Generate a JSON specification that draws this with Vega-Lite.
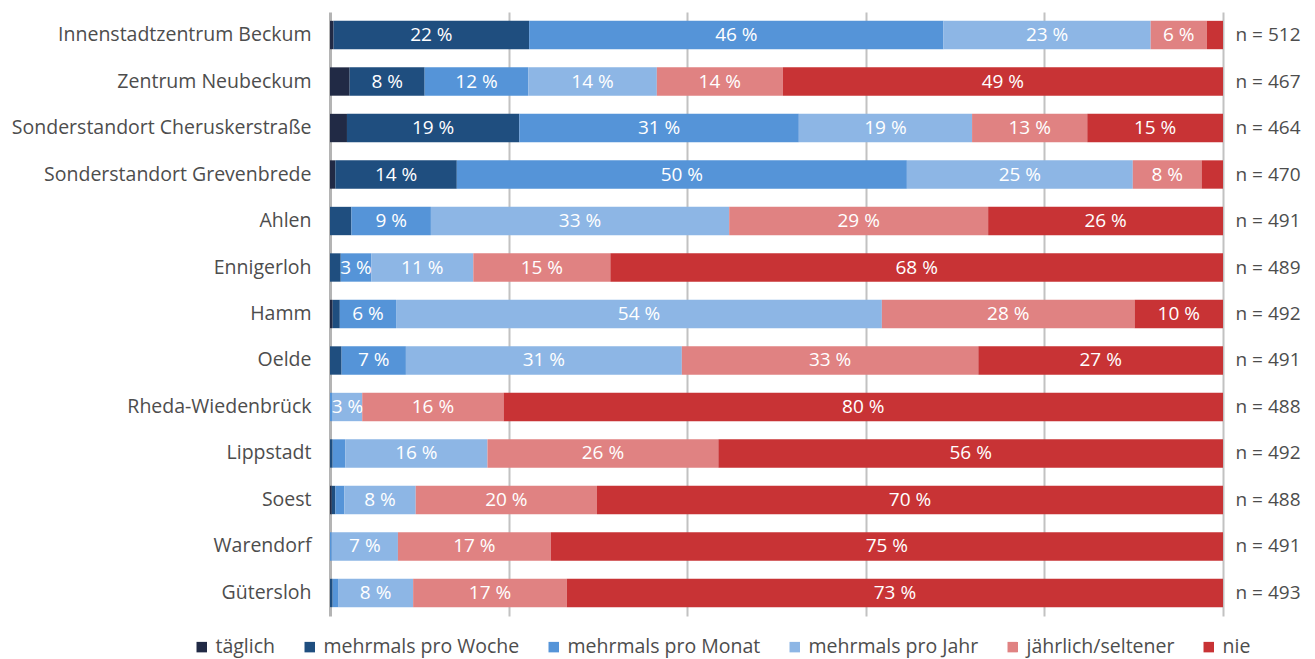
{
  "$schema": "https://vega.github.io/schema/vega-lite/v6.json",
  "width": 893,
  "height": 604,
  "autosize": {"type": "none"},
  "padding": {"left": 330, "top": 12, "right": 92, "bottom": 43},
  "background": "white",
  "config": {
    "font": "Open Sans",
    "view": {"stroke": null}
  },
  "datasets": {
    "seg": [
      {"loc": "Innenstadtzentrum Beckum", "cat": "täglich", "v": 0.4},
      {"loc": "Innenstadtzentrum Beckum", "cat": "mehrmals pro Woche", "v": 21.9},
      {"loc": "Innenstadtzentrum Beckum", "cat": "mehrmals pro Monat", "v": 46.4},
      {"loc": "Innenstadtzentrum Beckum", "cat": "mehrmals pro Jahr", "v": 23.2},
      {"loc": "Innenstadtzentrum Beckum", "cat": "jährlich/seltener", "v": 6.3},
      {"loc": "Innenstadtzentrum Beckum", "cat": "nie", "v": 1.8},
      {"loc": "Zentrum Neubeckum\u00a0", "cat": "täglich", "v": 2.2},
      {"loc": "Zentrum Neubeckum\u00a0", "cat": "mehrmals pro Woche", "v": 8.4},
      {"loc": "Zentrum Neubeckum\u00a0", "cat": "mehrmals pro Monat", "v": 11.6},
      {"loc": "Zentrum Neubeckum\u00a0", "cat": "mehrmals pro Jahr", "v": 14.4},
      {"loc": "Zentrum Neubeckum\u00a0", "cat": "jährlich/seltener", "v": 14.1},
      {"loc": "Zentrum Neubeckum\u00a0", "cat": "nie", "v": 49.3},
      {"loc": "Sonderstandort Cheruskerstraße", "cat": "täglich", "v": 1.9},
      {"loc": "Sonderstandort Cheruskerstraße", "cat": "mehrmals pro Woche", "v": 19.3},
      {"loc": "Sonderstandort Cheruskerstraße", "cat": "mehrmals pro Monat", "v": 31.3},
      {"loc": "Sonderstandort Cheruskerstraße", "cat": "mehrmals pro Jahr", "v": 19.4},
      {"loc": "Sonderstandort Cheruskerstraße", "cat": "jährlich/seltener", "v": 12.9},
      {"loc": "Sonderstandort Cheruskerstraße", "cat": "nie", "v": 15.2},
      {"loc": "Sonderstandort Grevenbrede", "cat": "täglich", "v": 0.6},
      {"loc": "Sonderstandort Grevenbrede", "cat": "mehrmals pro Woche", "v": 13.6},
      {"loc": "Sonderstandort Grevenbrede", "cat": "mehrmals pro Monat", "v": 50.4},
      {"loc": "Sonderstandort Grevenbrede", "cat": "mehrmals pro Jahr", "v": 25.3},
      {"loc": "Sonderstandort Grevenbrede", "cat": "jährlich/seltener", "v": 7.7},
      {"loc": "Sonderstandort Grevenbrede", "cat": "nie", "v": 2.4},
      {"loc": "Ahlen", "cat": "mehrmals pro Woche", "v": 2.4},
      {"loc": "Ahlen", "cat": "mehrmals pro Monat", "v": 8.9},
      {"loc": "Ahlen", "cat": "mehrmals pro Jahr", "v": 33.4},
      {"loc": "Ahlen", "cat": "jährlich/seltener", "v": 29.0},
      {"loc": "Ahlen", "cat": "nie", "v": 26.3},
      {"loc": "Ennigerloh", "cat": "mehrmals pro Woche", "v": 1.2},
      {"loc": "Ennigerloh", "cat": "mehrmals pro Monat", "v": 3.4},
      {"loc": "Ennigerloh", "cat": "mehrmals pro Jahr", "v": 11.4},
      {"loc": "Ennigerloh", "cat": "jährlich/seltener", "v": 15.3},
      {"loc": "Ennigerloh", "cat": "nie", "v": 68.4},
      {"loc": "Hamm", "cat": "täglich", "v": 0.3},
      {"loc": "Hamm", "cat": "mehrmals pro Woche", "v": 0.8},
      {"loc": "Hamm", "cat": "mehrmals pro Monat", "v": 6.3},
      {"loc": "Hamm", "cat": "mehrmals pro Jahr", "v": 54.4},
      {"loc": "Hamm", "cat": "jährlich/seltener", "v": 28.3},
      {"loc": "Hamm", "cat": "nie", "v": 9.9},
      {"loc": "Oelde", "cat": "mehrmals pro Woche", "v": 1.3},
      {"loc": "Oelde", "cat": "mehrmals pro Monat", "v": 7.2},
      {"loc": "Oelde", "cat": "mehrmals pro Jahr", "v": 30.9},
      {"loc": "Oelde", "cat": "jährlich/seltener", "v": 33.2},
      {"loc": "Oelde", "cat": "nie", "v": 27.4},
      {"loc": "Rheda-Wiedenbrück", "cat": "mehrmals pro Monat", "v": 0.3},
      {"loc": "Rheda-Wiedenbrück", "cat": "mehrmals pro Jahr", "v": 3.3},
      {"loc": "Rheda-Wiedenbrück", "cat": "jährlich/seltener", "v": 15.8},
      {"loc": "Rheda-Wiedenbrück", "cat": "nie", "v": 80.4},
      {"loc": "Lippstadt", "cat": "mehrmals pro Woche", "v": 0.3},
      {"loc": "Lippstadt", "cat": "mehrmals pro Monat", "v": 1.4},
      {"loc": "Lippstadt", "cat": "mehrmals pro Jahr", "v": 15.9},
      {"loc": "Lippstadt", "cat": "jährlich/seltener", "v": 25.8},
      {"loc": "Lippstadt", "cat": "nie", "v": 56.4},
      {"loc": "Soest", "cat": "täglich", "v": 0.2},
      {"loc": "Soest", "cat": "mehrmals pro Woche", "v": 0.4},
      {"loc": "Soest", "cat": "mehrmals pro Monat", "v": 1.0},
      {"loc": "Soest", "cat": "mehrmals pro Jahr", "v": 8.0},
      {"loc": "Soest", "cat": "jährlich/seltener", "v": 20.3},
      {"loc": "Soest", "cat": "nie", "v": 70.1},
      {"loc": "Warendorf", "cat": "mehrmals pro Monat", "v": 0.2},
      {"loc": "Warendorf", "cat": "mehrmals pro Jahr", "v": 7.4},
      {"loc": "Warendorf", "cat": "jährlich/seltener", "v": 17.1},
      {"loc": "Warendorf", "cat": "nie", "v": 75.2},
      {"loc": "Gütersloh", "cat": "mehrmals pro Woche", "v": 0.3},
      {"loc": "Gütersloh", "cat": "mehrmals pro Monat", "v": 0.6},
      {"loc": "Gütersloh", "cat": "mehrmals pro Jahr", "v": 8.4},
      {"loc": "Gütersloh", "cat": "jährlich/seltener", "v": 17.2},
      {"loc": "Gütersloh", "cat": "nie", "v": 73.4}
    ],
    "nvals": [
      {"loc": "Innenstadtzentrum Beckum", "n": 512},
      {"loc": "Zentrum Neubeckum\u00a0", "n": 467},
      {"loc": "Sonderstandort Cheruskerstraße", "n": 464},
      {"loc": "Sonderstandort Grevenbrede", "n": 470},
      {"loc": "Ahlen", "n": 491},
      {"loc": "Ennigerloh", "n": 489},
      {"loc": "Hamm", "n": 492},
      {"loc": "Oelde", "n": 491},
      {"loc": "Rheda-Wiedenbrück", "n": 488},
      {"loc": "Lippstadt", "n": 492},
      {"loc": "Soest", "n": 488},
      {"loc": "Warendorf", "n": 491},
      {"loc": "Gütersloh", "n": 493}
    ]
  },
  "layer": [
    {
      "data": {"name": "seg"},
      "transform": [
        {"calculate": "indexof(['täglich','mehrmals pro Woche','mehrmals pro Monat','mehrmals pro Jahr','jährlich/seltener','nie'], datum.cat)", "as": "k"},
        {"stack": "v", "groupby": ["loc"], "sort": [{"field": "k", "order": "ascending"}], "offset": "normalize", "as": ["s0", "s1"]}
      ],
      "mark": {"type": "bar"},
      "encoding": {
        "y": {
          "field": "loc", "type": "nominal",
          "sort": ["Innenstadtzentrum Beckum","Zentrum Neubeckum\u00a0","Sonderstandort Cheruskerstraße","Sonderstandort Grevenbrede","Ahlen","Ennigerloh","Hamm","Oelde","Rheda-Wiedenbrück","Lippstadt","Soest","Warendorf","Gütersloh"],
          "scale": {"paddingInner": 0.39, "paddingOuter": 0.19},
          "axis": {"title": null, "ticks": false, "domain": true, "domainColor": "#b4b4b4", "domainWidth": 3, "labelFontSize": 19.5, "labelColor": "#4d4d4d", "labelPadding": 19, "labelLimit": 0, "grid": false}
        },
        "x": {
          "field": "s0", "type": "quantitative",
          "scale": {"domain": [0, 1], "nice": false},
          "axis": {"title": null, "labels": false, "ticks": false, "domain": false, "grid": true, "gridColor": "#c2c2c2", "gridWidth": 2, "values": [0.2, 0.4, 0.6, 0.8, 1]}
        },
        "x2": {"field": "s1"},
        "color": {
          "field": "cat", "type": "nominal",
          "scale": {
            "domain": ["täglich","mehrmals pro Woche","mehrmals pro Monat","mehrmals pro Jahr","jährlich/seltener","nie"],
            "range": ["#212a45","#1f4e7f","#5594d8","#8db6e5","#e08282","#c83335"]
          },
          "legend": {
            "title": null, "orient": "none", "direction": "horizontal",
            "legendX": -138, "legendY": 625,
            "symbolType": "square", "symbolSize": 110, "symbolStrokeWidth": 0,
            "labelFontSize": 19.5, "labelColor": "#4d4d4d", "labelOffset": 4, "labelLimit": 0,
            "columnPadding": 24
          }
        }
      }
    },
    {
      "data": {"name": "seg"},
      "transform": [
        {"calculate": "indexof(['täglich','mehrmals pro Woche','mehrmals pro Monat','mehrmals pro Jahr','jährlich/seltener','nie'], datum.cat)", "as": "k"},
        {"stack": "v", "groupby": ["loc"], "sort": [{"field": "k", "order": "ascending"}], "offset": "normalize", "as": ["s0", "s1"]},
        {"filter": "datum.v >= 3"},
        {"calculate": "(datum.s0 + datum.s1) / 2", "as": "mid"},
        {"calculate": "format(datum.v, '.0f') + ' %'", "as": "label"}
      ],
      "mark": {"type": "text", "color": "white", "fontSize": 19, "align": "center", "baseline": "middle"},
      "encoding": {
        "y": {"field": "loc", "type": "nominal", "sort": ["Innenstadtzentrum Beckum","Zentrum Neubeckum\u00a0","Sonderstandort Cheruskerstraße","Sonderstandort Grevenbrede","Ahlen","Ennigerloh","Hamm","Oelde","Rheda-Wiedenbrück","Lippstadt","Soest","Warendorf","Gütersloh"]},
        "x": {"field": "mid", "type": "quantitative"},
        "text": {"field": "label", "type": "nominal"}
      }
    },
    {
      "data": {"name": "nvals"},
      "transform": [
        {"calculate": "'n = ' + datum.n", "as": "nlabel"}
      ],
      "mark": {"type": "text", "color": "#4d4d4d", "fontSize": 19, "align": "center", "baseline": "middle", "dx": 45},
      "encoding": {
        "y": {"field": "loc", "type": "nominal", "sort": ["Innenstadtzentrum Beckum","Zentrum Neubeckum\u00a0","Sonderstandort Cheruskerstraße","Sonderstandort Grevenbrede","Ahlen","Ennigerloh","Hamm","Oelde","Rheda-Wiedenbrück","Lippstadt","Soest","Warendorf","Gütersloh"]},
        "x": {"datum": 1, "type": "quantitative"},
        "text": {"field": "nlabel", "type": "nominal"}
      }
    }
  ]
}
